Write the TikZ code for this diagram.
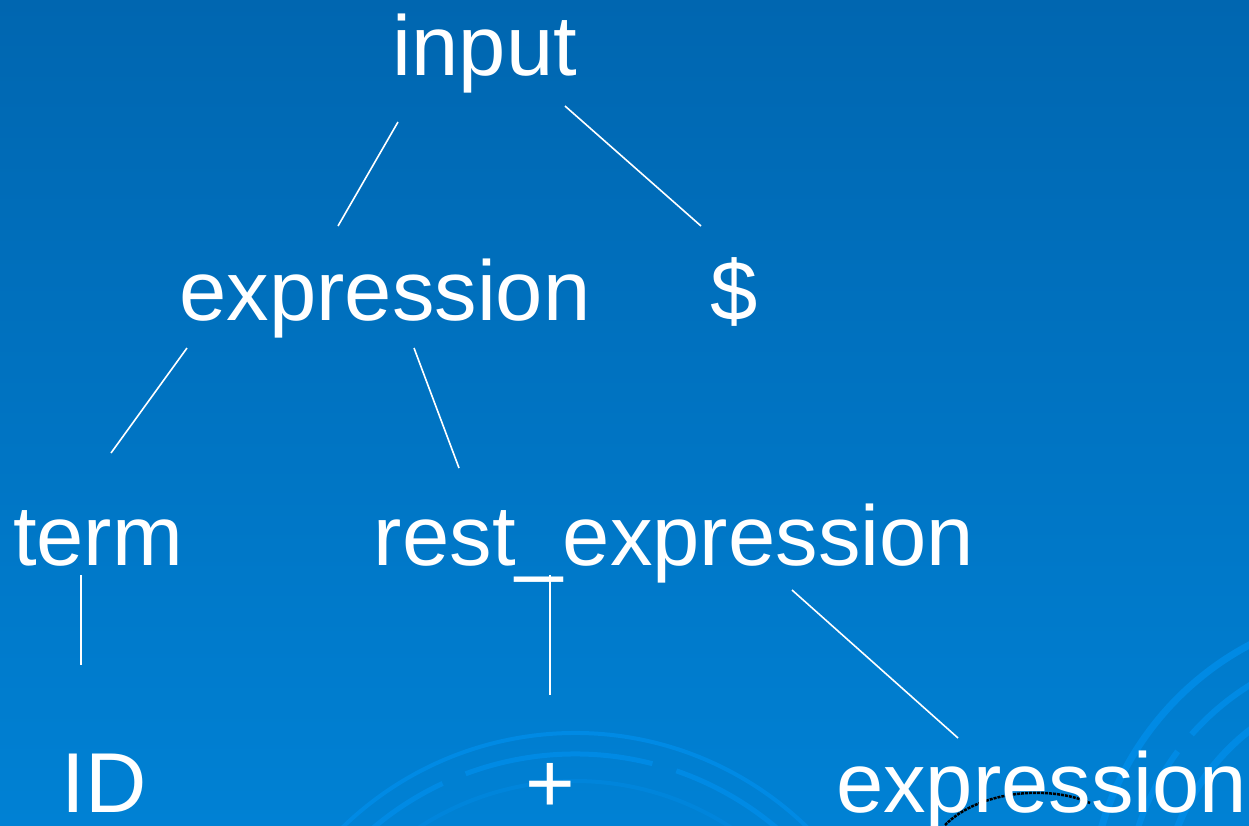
\documentclass[tikz,border=0pt]{standalone}
\usepackage{fontspec}
\setmainfont{Liberation Sans}
\begin{document}
\begin{tikzpicture}[x=1pt,y=-1pt,
  lbl/.style={text=white,inner sep=0pt,anchor=base,font=\fontsize{85}{100}\selectfont},
  edge/.style={draw=white,line width=1.6pt},
  deco/.style={draw=arcblue,line width=6pt}]
\definecolor{bgtop}{RGB}{0,102,176}
\definecolor{bgbot}{RGB}{0,129,212}
\definecolor{arcblue}{RGB}{0,138,228}
\useasboundingbox (0,0) rectangle (1249,825);
\shade[top color=bgtop,bottom color=bgbot] (0,0) rectangle (1249,825);
\begin{scope}
\clip (0,0) rectangle (1249,825);
% decorative arcs, bottom centre
\draw[deco,line width=4pt] (575,1066) ++(148:333pt) arc[start angle=148,end angle=30,radius=333pt];
\draw[deco,line width=5pt,dash pattern=on 190pt off 25pt] (575,1066) ++(150:312pt) arc[start angle=150,end angle=25,radius=312pt];
\draw[deco,line width=4pt,opacity=0.5] (575,1066) ++(140:285pt) arc[start angle=140,end angle=40,radius=285pt];
% decorative arcs, bottom right
\draw[deco,line width=7pt] (1390,910) ++(185:300pt) arc[start angle=185,end angle=100,radius=300pt];
\draw[deco,line width=6pt,dash pattern=on 170pt off 22pt] (1390,910) ++(180:265pt) arc[start angle=180,end angle=100,radius=265pt];
\draw[deco,line width=7pt,dash pattern=on 25pt off 30pt on 200pt off 10pt] (1390,910) ++(185:228pt) arc[start angle=185,end angle=105,radius=228pt];
\end{scope}
\draw[black,line width=2.5pt,dash pattern=on 3pt off 1pt] (945,825) .. controls (980,790) and (1050,785) .. (1090,803);

\node[lbl] (input) at (485,75) {input};
\node[lbl] (expr) at (385,320) {expression};
\node[lbl] (dollar) at (734,320) {\$};
\node[lbl] (term) at (98,565) {term};
\node[lbl] (rest) at (674,565) {rest\_expression};
\node[lbl] (id) at (104,812) {ID};
\node[lbl] (plus) at (550,812) {+};
\node[lbl,anchor=base west] (expr2) at (836,812) {expression};

\coordinate (inputL) at (398,122);
\coordinate (exprT) at (338,226);
\coordinate (inputR) at (565,106);
\coordinate (dollarT) at (701,226);
\coordinate (exprL) at (187,348);
\coordinate (termT) at (111,453);
\coordinate (exprR) at (414,348);
\coordinate (restT) at (459,468);
\coordinate (termB) at (81,575);
\coordinate (idT) at (81,665);
\coordinate (restB) at (550,575);
\coordinate (plusT) at (550,695);
\coordinate (restR) at (792,590);
\coordinate (expr2T) at (958,738);

\draw[edge] (inputL) -- (exprT);
\draw[edge] (inputR) -- (dollarT);
\draw[edge] (exprL) -- (termT);
\draw[edge] (exprR) -- (restT);
\draw[edge] (termB) -- (idT);
\draw[edge] (restB) -- (plusT);
\draw[edge] (restR) -- (expr2T);
\end{tikzpicture}
\end{document}
